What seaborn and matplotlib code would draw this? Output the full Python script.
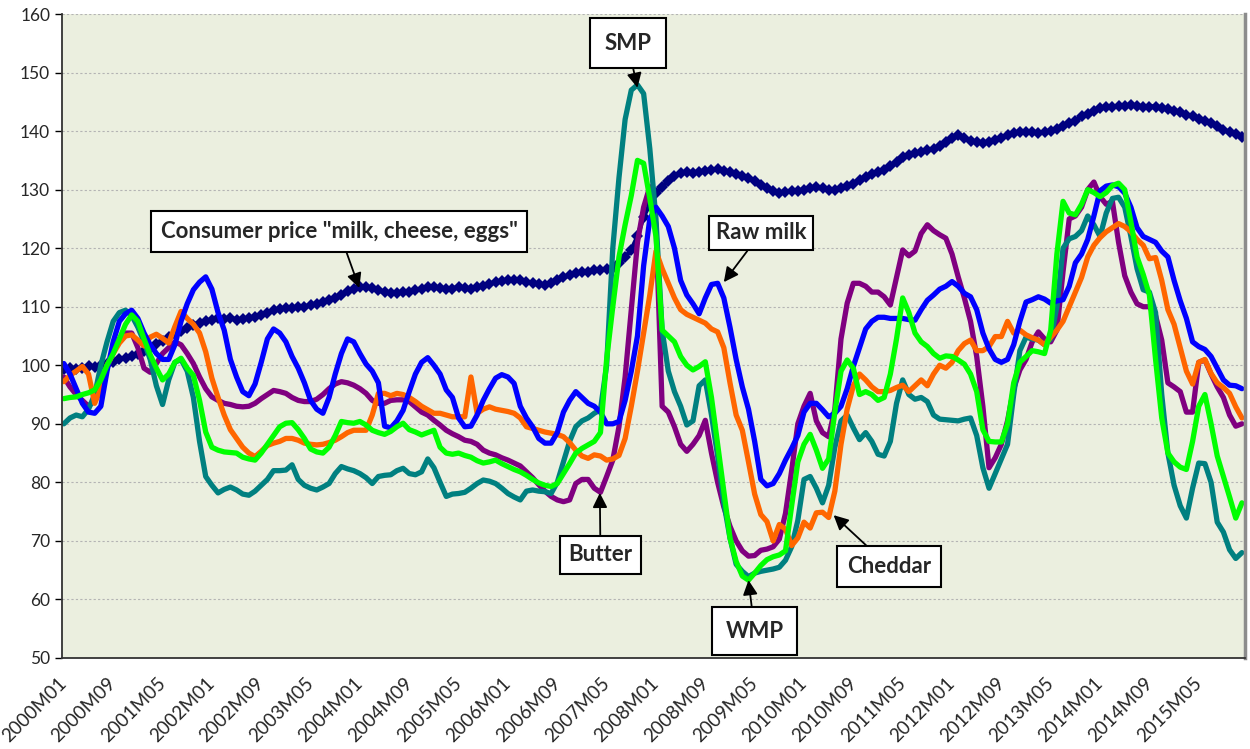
import matplotlib
matplotlib.use("Agg")
import matplotlib.pyplot as plt
from matplotlib.transforms import ScaledTranslation
import pandas as pd
import seaborn as sns

# month labels 2000M01 .. 2015M12
months = [f"{y}M{m:02d}" for y in range(2000, 2016) for m in range(1, 13)]
tick_labels = months[::8]

# index values, one row per year (Jan..Dec)
consumer_price = [
    99.3, 99.5, 99.4, 99.6, 99.8, 99.7, 100, 100.3, 100.5, 101, 101.3, 101.6,
    102, 102.5, 103, 103.6, 104.2, 104.8, 105.3, 105.8, 106.4, 106.9, 107.3, 107.6,
    107.8, 108, 107.9, 108.1, 107.8, 107.9, 108, 108.2, 108.6, 109, 109.4, 109.6,
    109.7, 109.7, 110, 110, 110.3, 110.5, 110.8, 111.2, 111.5, 112, 112.7, 113.1,
    113.3, 113.4, 113.2, 112.8, 112.5, 112.3, 112.4, 112.5, 112.6, 112.9, 113.1, 113.3,
    113.4, 113.2, 113, 113.1, 113.4, 113.2, 113, 113.3, 113.6, 113.9, 114.2, 114.4,
    114.5, 114.5, 114.6, 114.3, 114, 113.8, 113.7, 114, 114.5, 115, 115.4, 115.7,
    116, 116, 116.2, 116.3, 116.4, 116.6, 117.5, 118.5, 119.7, 122, 125.4, 127.5,
    129.4, 130.5, 131.5, 132.3, 132.8, 133, 132.8, 133, 133.2, 133.4, 133.5, 133.2,
    133, 132.6, 132.4, 132, 131.5, 130.8, 130.2, 129.8, 129.5, 129.6, 129.7, 129.8,
    130, 130.3, 130.4, 130.2, 130, 130, 130.3, 130.6, 131, 131.6, 132.2, 132.7,
    133, 133.3, 134, 134.8, 135.5, 136, 136.3, 136.5, 136.8, 137, 137.5, 138.2,
    138.8, 139.3, 138.8, 138.3, 138.2, 138, 138.2, 138.5, 138.9, 139.3, 139.6, 139.8,
    139.9, 139.8, 139.6, 139.8, 140, 140.3, 140.8, 141.3, 141.8, 142.5, 143, 143.5,
    143.9, 144.1, 144.2, 144.3, 144.3, 144.4, 144.3, 144.2, 144.2, 144.2, 144, 143.8,
    143.5, 143.2, 142.8, 142.5, 142, 141.8, 141.3, 140.8, 140.2, 139.8, 139.5, 139,
]
raw_milk = [
    100.3, 98.5, 96, 93.5, 92, 91.8, 93, 99, 104, 107.5, 108.8, 109.4,
    108, 105.5, 103.5, 102, 101, 101, 103.5, 107.5, 110.5, 112.9, 114.2, 115.1,
    113, 109, 106, 101, 98, 95.5, 94.8, 96.8, 100.5, 104.5, 106.2, 105.5,
    104, 101.5, 99.5, 97, 94, 92.5, 91.8, 94.5, 98.5, 102, 104.5, 104,
    102, 100.2, 99, 97, 89.6, 89.3, 90.5, 92.3, 95.5, 98.5, 100.5, 101.3,
    100, 98.5, 95.8, 94.5, 91, 89.5, 89.6, 91.5, 94, 96, 97.8, 98.4,
    98, 96.9, 93, 91, 89.5, 87.5, 86.7, 86.7, 88.5, 92, 94, 95.5,
    94.5, 93.5, 93, 92, 90, 90, 90.4, 94, 99, 105, 117, 125,
    127, 125.5, 123.7, 120, 114.5, 112, 110.5, 108.8, 111.5, 113.8, 114, 111.5,
    106.5, 101, 96.3, 92.5, 87, 80.5, 79.4, 79.8, 81.5, 83.8, 85.8, 88,
    92, 93.5, 93.5, 92.4, 91.2, 91.8, 93, 96, 99.8, 103, 106.2, 107.5,
    108.2, 108.2, 108, 108, 108, 107.8, 107.7, 109.5, 111.1, 112, 113, 113.5,
    114.3, 113.5, 112.3, 111.7, 109.5, 105.5, 102.8, 101, 100.5, 101, 103.5, 107.5,
    110.8, 111.2, 111.7, 111.3, 110.6, 111, 111.2, 113.5, 117.5, 119, 121.5, 125.5,
    129.8, 130.6, 130.8, 130.5, 129.4, 127, 123.5, 122, 121.5, 121, 119.5, 118.5,
    114.5, 111, 108, 104, 103.2, 102.7, 101.5, 99.5, 97.5, 96.6, 96.5, 96,
]
smp = [
    90, 91, 91.5, 91.2, 92.5, 95, 100, 104, 107.5, 109, 109.4, 108.5,
    106.5, 104, 101, 96.5, 93.3, 97.5, 100.5, 101, 99, 94.5, 87, 81,
    79.5, 78.2, 78.8, 79.2, 78.7, 78, 77.8, 78.5, 79.5, 80.5, 82, 82,
    82.1, 83, 80.5, 79.5, 79, 78.7, 79.2, 79.8, 81.5, 82.7, 82.3, 82,
    81.5, 80.8, 79.8, 81, 81.2, 81.3, 82, 82.4, 81.5, 81.3, 81.8, 84,
    82.5, 80, 77.6, 78, 78.1, 78.3, 79, 79.8, 80.4, 80.2, 79.8, 79,
    78.1, 77.5, 77, 78.5, 78.7, 78.5, 78.4, 78.1, 80, 83.5, 87, 89.5,
    90.5, 91, 91.8, 92.4, 100, 120, 132, 142, 147, 147.9, 146.4, 137,
    125, 106, 99, 95.5, 93, 89.8, 90.5, 96.5, 97.5, 91.5, 84.5, 76.5,
    70.5, 66, 64.8, 63.9, 64.5, 64.8, 65, 65.2, 65.5, 66.7, 69, 73.5,
    80.5, 81, 79, 76.5, 79.5, 86, 90.5, 91.5, 89.3, 87.3, 88.5, 87,
    84.8, 84.5, 87, 93.5, 97.5, 95, 94.2, 94.5, 93.8, 91.5, 90.8, 90.7,
    90.6, 90.5, 90.8, 91, 88, 82.5, 79, 81.5, 84, 86.5, 95, 102.5,
    104.8, 104.5, 104.3, 103.5, 104.5, 110, 120, 121.6, 122, 123, 125.5, 124,
    122, 126, 128.5, 128.7, 127, 122, 116.5, 112.9, 112.5, 109, 95, 85,
    79.5, 76, 73.9, 79, 83.3, 83.2, 80, 73.2, 71.5, 68.5, 67, 68,
]
wmp = [
    94.3, 94.5, 94.6, 95, 95.3, 95.8, 97.5, 100, 102, 104.5, 107, 108.6,
    107.5, 104.5, 101.8, 99.5, 97.5, 98.5, 100.5, 101.2, 99.5, 98.3, 94, 88.6,
    86, 85.5, 85.2, 85.1, 85, 84.3, 84, 83.8, 85, 86.5, 88, 89.5,
    90.1, 90.2, 89, 87.5, 85.7, 85.2, 85, 86, 88, 90.4, 90.2, 90.1,
    90.4, 89.8, 88.9, 88.5, 88.2, 88.7, 89.5, 90.1, 89, 88.6, 88.1, 88.5,
    88.9, 86, 85, 84.8, 85, 84.6, 84.3, 83.7, 83.3, 83.5, 83.8, 83.2,
    82.7, 82.2, 81.8, 81.2, 80.5, 79.9, 79.5, 79.3, 79.8, 81.5, 83.2, 85,
    85.8, 86.4, 87, 88.5, 101, 110, 118.5, 124, 129, 135, 134.5, 128.5,
    122, 106, 105, 104, 101.5, 100, 99.2, 99.8, 100.6, 94.5, 86.5, 78.5,
    70.5, 66.5, 64, 63.3, 64.5, 65.8, 66.8, 67.3, 67.6, 68.3, 76, 83.5,
    86.5, 88.2, 85.5, 82.4, 84, 92, 99, 100.9, 99.5, 95, 95.5, 95,
    94, 94.5, 98.5, 104.5, 111.5, 109, 105.5, 104, 103.2, 102, 101.2, 101.6,
    101.5, 100.9, 100.2, 98.5, 95.5, 89, 87, 86.9, 86.9, 90, 97, 100.5,
    101.5, 102.5, 102.3, 102, 106, 119, 128, 126, 125.7, 127.5, 130, 129.5,
    128.8, 129.5, 130.7, 131.1, 130, 124.5, 118.5, 115.5, 112, 101, 91, 85,
    83.5, 82.6, 82.2, 87, 93, 95, 90, 84.5, 81, 77.5, 73.9, 76.5,
]
butter = [
    98, 96.3, 95, 94, 93, 94, 96.5, 99.5, 102.5, 104.5, 105.5, 105.5,
    103, 99.5, 98.8, 100.3, 102, 103, 104, 103.5, 102, 100.3, 98, 96,
    94.6, 94, 93.5, 93.3, 93, 92.9, 93, 93.5, 94.3, 95, 95.7, 95.5,
    95.2, 94.5, 94, 93.8, 93.8, 94.2, 95, 96, 96.8, 97.2, 97, 96.6,
    96, 95.2, 94, 93.5, 93.5, 94, 94.1, 94.1, 93.8, 92.9, 92, 91.5,
    90.6, 89.8, 88.9, 88.3, 87.8, 87.2, 87, 86.5, 85.5, 85, 84.7, 84.2,
    83.8, 83.3, 82.8, 81.8, 80.8, 79.6, 78.5, 77.6, 77, 76.7, 77, 79.8,
    80.5, 80.5, 79, 78.3, 81, 83.8, 89.5, 98, 109.5, 121, 127, 130.5,
    124, 93, 92, 89.5, 86.5, 85.3, 86.5, 88, 90.6, 85, 80, 75.8,
    72.5, 70, 68.3, 67.4, 67.5, 68.4, 68.6, 69, 70.3, 74.7, 82, 90,
    93, 95.2, 90.5, 88.5, 87.8, 92.5, 104.5, 110.6, 114, 114, 113.5, 112.5,
    112.5, 111.7, 110.3, 115, 119.7, 118.7, 119.5, 122.5, 124, 123, 122.3, 121.7,
    119, 115.1, 111.5, 107.5, 101.5, 93, 82.5, 84.2, 86.5, 90.5, 96, 99.2,
    101, 104, 105.7, 104.5, 104, 106, 116, 125, 125.5, 127, 130, 131.3,
    128.8, 127.5, 128, 121, 115.3, 112.5, 110.5, 110, 110, 108.5, 104.3, 97,
    96.3, 95.5, 92, 92, 100.5, 100.9, 98.5, 96.3, 94.5, 91.5, 89.6, 90,
]
cheddar = [
    97.2, 98.3, 99, 99.8, 98.5, 93.5, 96, 100, 102, 103.8, 105, 105.2,
    104.3, 103.3, 104.8, 105.3, 104.6, 103.8, 106.6, 109.2, 108, 107, 105.5, 102.3,
    97.8, 94.5, 91.5, 89, 87.5, 86, 85, 84.4, 85.3, 86.3, 86.7, 87,
    87.5, 87.5, 87.2, 86.7, 86.5, 86.4, 86.5, 86.8, 87.2, 87.8, 88.5, 88.9,
    88.9, 88.9, 91.5, 95.2, 95.2, 94.8, 95.2, 95, 94.5, 93.8, 93, 92.4,
    91.8, 91.8, 91.5, 91.2, 91.2, 91.2, 98, 91.8, 92.5, 92.9, 92.5, 92.3,
    92.1, 91.8, 91, 89.5, 89.2, 88.9, 88.6, 88.4, 88.2, 87.8, 86.8, 85.5,
    84.5, 84.1, 84.7, 84.5, 83.8, 84, 84.6, 87.5, 93, 99, 105.5, 112,
    119.5, 116.5, 114, 111.5, 109.5, 108.7, 108.2, 107.7, 107.2, 106.2, 105.7, 103,
    97, 91.5, 88.9, 83.5, 78, 74.5, 73.3, 70, 72.8, 72, 69.2, 70.5,
    73.2, 72.2, 74.8, 74.9, 74, 78.5, 86.5, 92.5, 96.5, 98.5, 97.5, 96.3,
    95.5, 95.5, 95.7, 96.2, 96.6, 95.5, 96.5, 97.5, 96.5, 98.5, 100, 99.5,
    100.5, 102.5, 103.7, 104.3, 102.5, 102.5, 103.2, 104.9, 104.9, 107.5, 105.5, 106,
    105.2, 104.7, 104.3, 103.5, 104.8, 106, 107.5, 110, 112.5, 115, 118.5, 120.5,
    121.8, 122.8, 123.5, 124.2, 123.7, 122.8, 121.5, 120.5, 118.2, 118.4, 114.5, 109.5,
    107, 103, 99, 96.8, 100.5, 101, 98.6, 97, 96.2, 95.2, 92.9, 91,
]

df = pd.DataFrame({
    "t": range(len(months)),
    "month": months,
    "cpi": consumer_price,
    "butter": butter,
    "smp": smp,
    "cheddar": cheddar,
    "raw_milk": raw_milk,
    "wmp": wmp,
})

sns.set_style("white")
plt.rcParams["font.family"] = ["Lato", "DejaVu Sans"]

fig, ax = plt.subplots(figsize=(12.5, 7.49), dpi=100)
fig.subplots_adjust(left=0.0496, right=0.996, bottom=0.1215, top=0.9813)
ax.set_facecolor("#ebefdf")

# CPI with diamond markers first, dairy series on top
sns.lineplot(data=df, x="t", y="cpi", ax=ax, color="#000080", lw=3.2,
             marker="D", markersize=6.5, markeredgewidth=0)
line_styles = [
    ("butter", "#800080"),
    ("smp", "#008080"),
    ("cheddar", "#ff6600"),
    ("raw_milk", "#0000ff"),
    ("wmp", "#00ff00"),
]
for col, color in line_styles:
    sns.lineplot(data=df, x="t", y=col, ax=ax, color=color, lw=3.8)

ax.set_xlim(-0.3, 191.5)
ax.set_ylim(50, 160)
ax.set_yticks(range(50, 161, 10))
ax.set_xticks(range(0, len(months), 8))
ax.set_xticklabels(tick_labels, rotation=45, ha="right", va="center",
                   rotation_mode="anchor", fontsize=13.5)
shift = ScaledTranslation(7 / 100, 0, fig.dpi_scale_trans)
for lbl in ax.get_xticklabels():
    lbl.set_transform(lbl.get_transform() + shift)
ax.tick_params(axis="y", labelsize=12.5, length=5, width=1, color="black", left=True)
ax.tick_params(axis="x", length=0, pad=16)
ax.set_xlabel("")
ax.set_ylabel("")
ax.yaxis.grid(True, linestyle=(0, (2, 2)), color="#b4b4b4", lw=0.8)
ax.set_axisbelow(True)

for side in ["left", "bottom"]:
    ax.spines[side].set_color("#333333")
    ax.spines[side].set_linewidth(1.3)
ax.spines["top"].set_visible(False)
ax.spines["right"].set_color("#8c8c8c")
ax.spines["right"].set_linewidth(2.5)

# callout boxes: (text, arrow tip, box centre, box padding)
callouts = [
    ('Consumer price "milk, cheese, eggs"', (47.9, 113.2), (44.6, 122.9), 0.45),
    ("SMP", (93.0, 147.4), (91.4, 155.0), 0.65),
    ("Raw milk", (107.0, 114.2), (113.0, 122.6), 0.3),
    ("Butter", (86.9, 78.2), (87.0, 67.6), 0.4),
    ("WMP", (111.0, 63.3), (112.0, 54.6), 0.6),
    ("Cheddar", (124.8, 74.4), (133.8, 65.6), 0.45),
]
for text, tip, box, pad in callouts:
    ax.annotate(text, xy=tip, xytext=box, ha="center", va="center",
                fontsize=16, fontweight="bold",
                bbox=dict(boxstyle=f"square,pad={pad}", fc="white", ec="black", lw=1.5),
                arrowprops=dict(arrowstyle="-|>", color="black", lw=1.3,
                                mutation_scale=22, shrinkA=0, shrinkB=0))

plt.savefig("out.png", dpi=100)
plt.close()
